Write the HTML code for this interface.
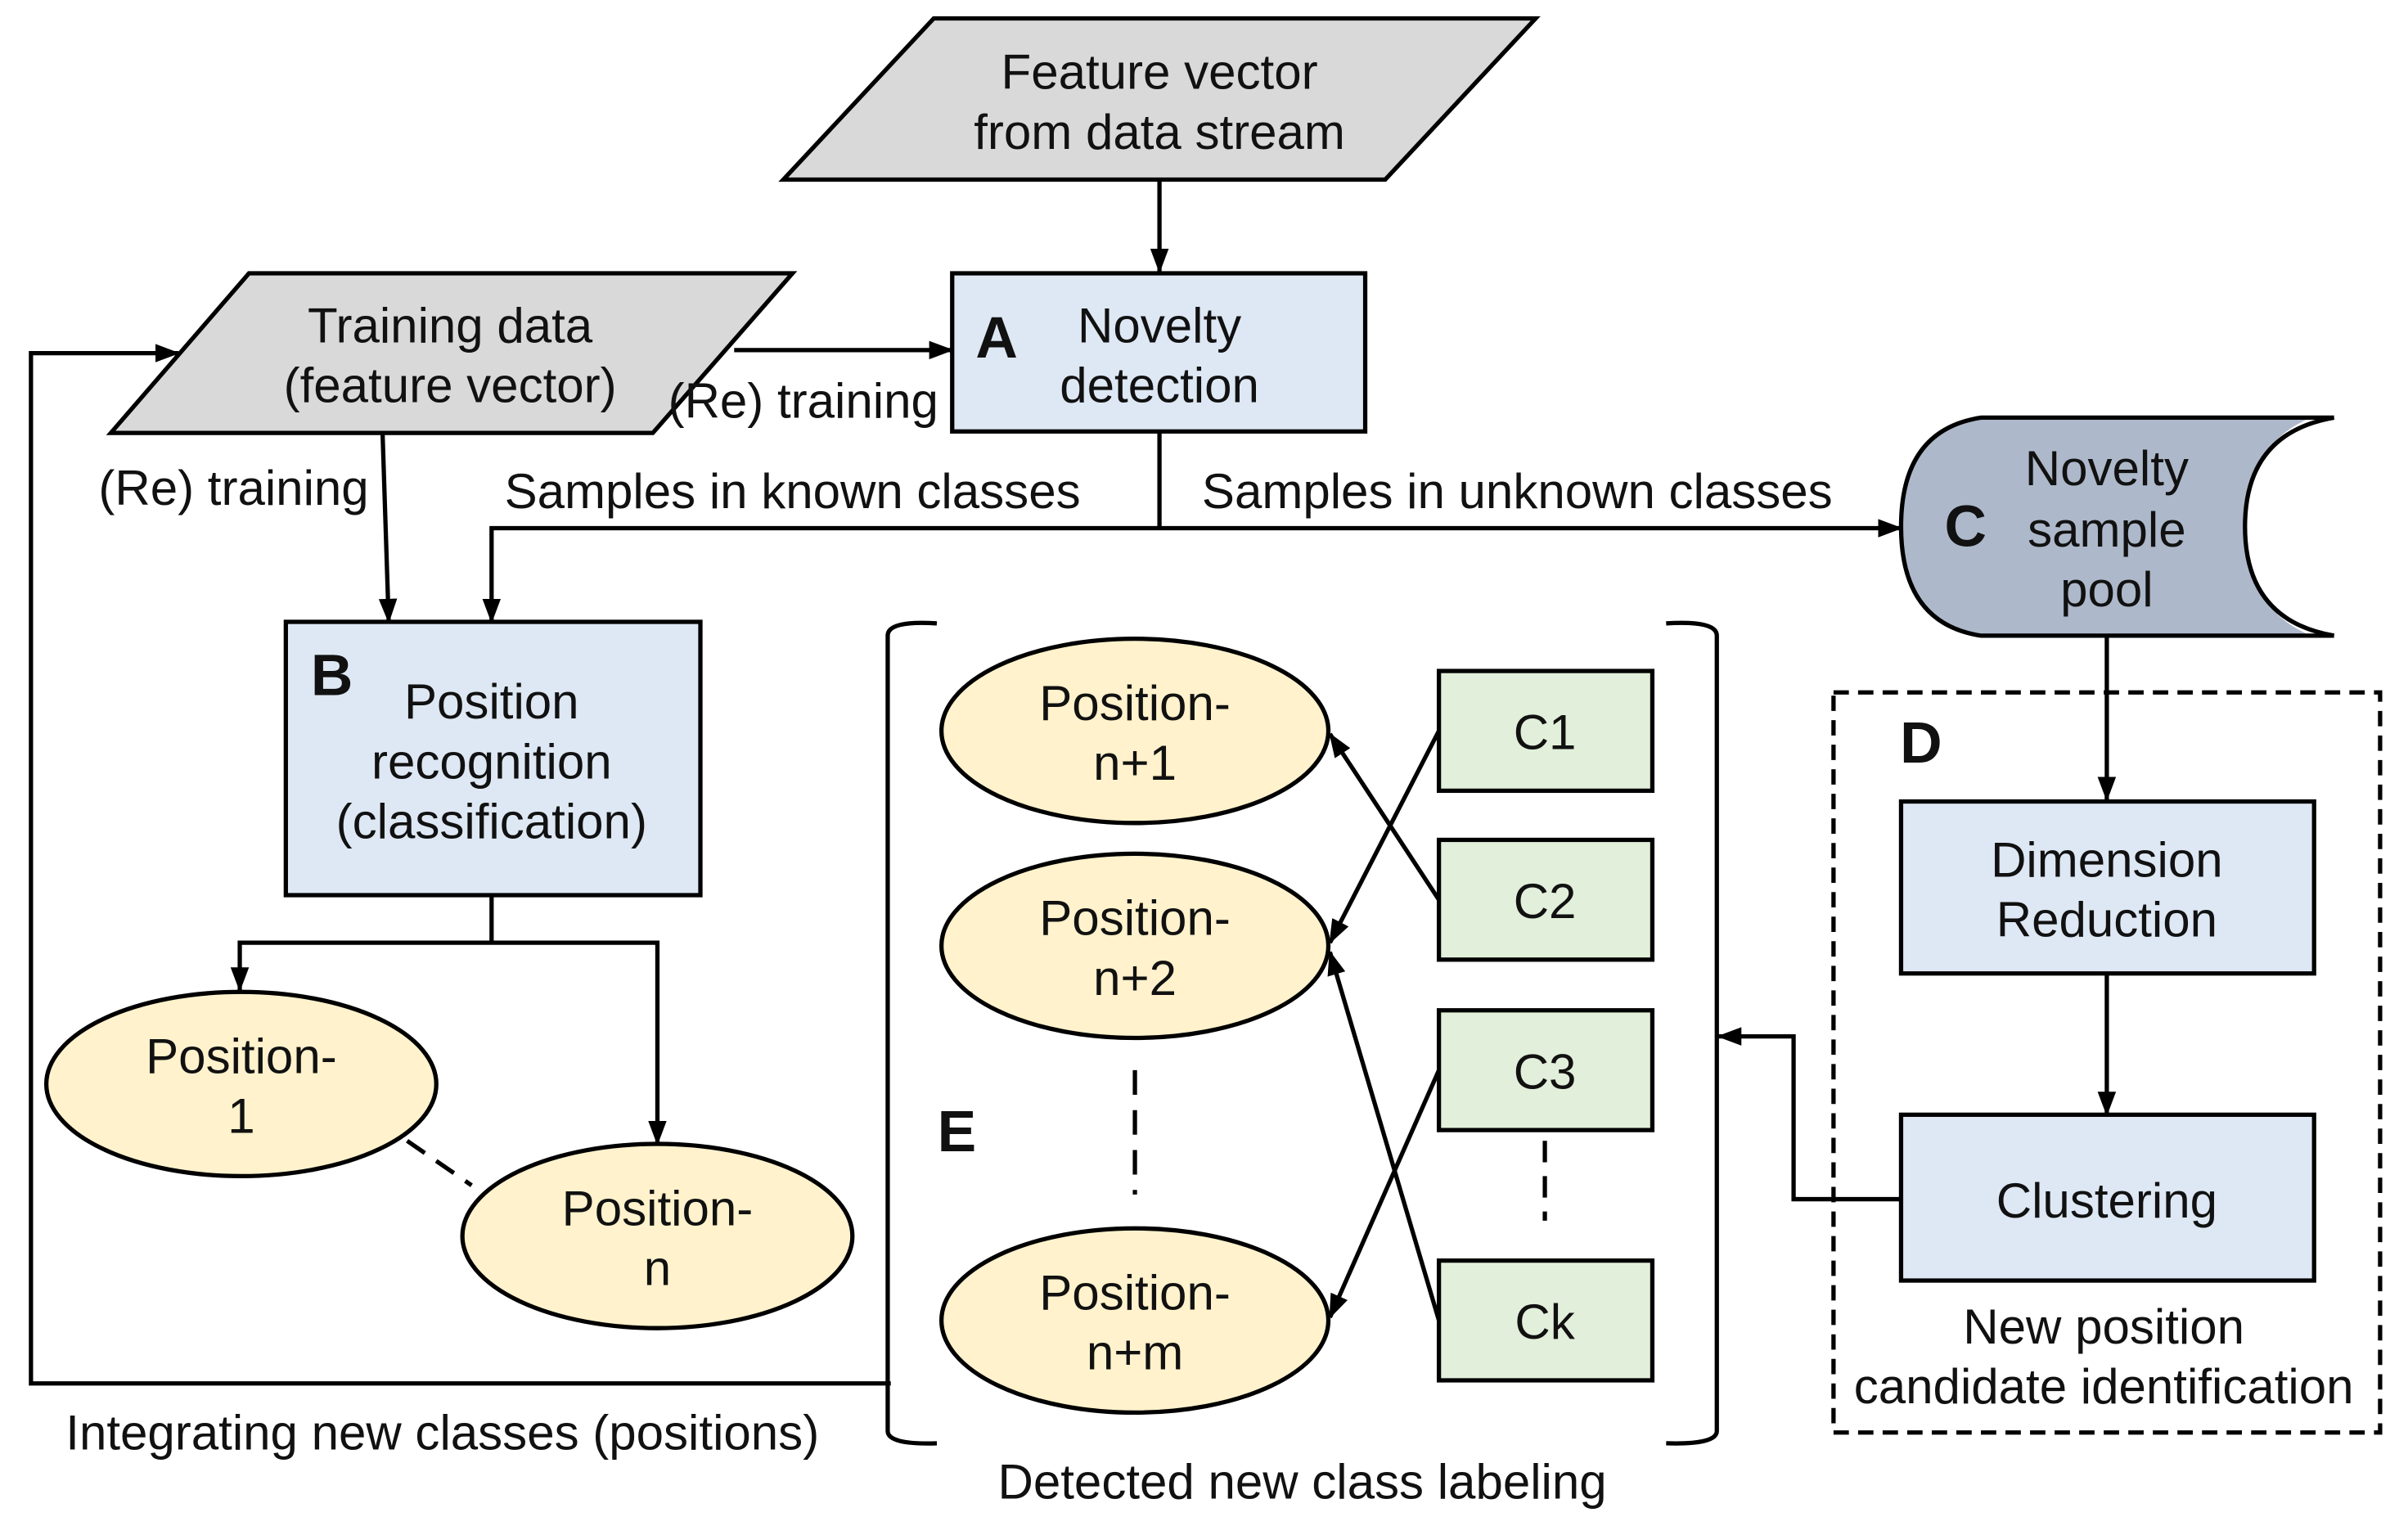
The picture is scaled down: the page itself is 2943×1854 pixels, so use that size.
<!DOCTYPE html>
<html><head><meta charset="utf-8"><style>
html,body{margin:0;padding:0;background:#fff;}
svg{display:block;}
text{font-family:"Liberation Sans",sans-serif;font-size:32px;fill:#111;text-anchor:middle;dominant-baseline:central;}
.b{font-weight:bold;font-size:38px;}
</style></head><body>
<svg width="2943" height="1854" viewBox="0 0 1568 988" xmlns="http://www.w3.org/2000/svg">
<defs>
<marker id="ar" viewBox="0 0 16 12" refX="15" refY="6" markerWidth="16" markerHeight="12" orient="auto-start-reverse" markerUnits="userSpaceOnUse">
<path d="M0,0 L16,6 L0,12 z" fill="#000"/>
</marker>
</defs>
<g stroke="#000" stroke-width="2.8" fill="none">
<polygon points="510,117 608,12 1000,12 902,117" fill="#d9d9d9"/>
<line x1="755" y1="117" x2="755" y2="177" marker-end="url(#ar)"/>
<polygon points="72,282 162,178 516,178 425,282" fill="#d9d9d9"/>
<line x1="478" y1="228" x2="620" y2="228" marker-end="url(#ar)"/>
<rect x="620" y="178" width="269" height="103" fill="#dee8f4"/>
<polyline points="755,282 755,344"/>
<polyline points="320,405 320,344 1238,344" marker-start="url(#ar)" marker-end="url(#ar)"/>
<line x1="249" y1="282" x2="253" y2="405" marker-end="url(#ar)"/>
<rect x="186" y="405" width="270" height="178" fill="#dee8f4"/>
<polyline points="320,583 320,614"/>
<polyline points="156,645 156,614 428,614 428,745" marker-start="url(#ar)" marker-end="url(#ar)"/>
<ellipse cx="157" cy="706" rx="127" ry="60" fill="#fff2cc"/>
<ellipse cx="428" cy="805" rx="127" ry="60" fill="#fff2cc"/>
<line x1="265" y1="743" x2="307" y2="772" stroke-dasharray="14,9"/>
<polyline points="580,901 20,901 20,230 116,230" marker-end="url(#ar)"/>
<path d="M610,406 Q578,404 578,414 L578,932 Q578,941 610,940"/>
<path d="M1085,406 Q1118,404 1118,414 L1118,932 Q1118,941 1085,940"/>
<ellipse cx="739" cy="476" rx="126" ry="60" fill="#fff2cc"/>
<ellipse cx="739" cy="616" rx="126" ry="60" fill="#fff2cc"/>
<ellipse cx="739" cy="860" rx="126" ry="60" fill="#fff2cc"/>
<line x1="739" y1="697" x2="739" y2="778" stroke-dasharray="16,10"/>
<rect x="937" y="437" width="139" height="78" fill="#e2efda"/>
<rect x="937" y="547" width="139" height="78" fill="#e2efda"/>
<rect x="937" y="658" width="139" height="78" fill="#e2efda"/>
<rect x="937" y="821" width="139" height="78" fill="#e2efda"/>
<line x1="1006" y1="743" x2="1006" y2="795" stroke-dasharray="14,9"/>
<line x1="937" y1="476" x2="866" y2="614" marker-end="url(#ar)"/>
<line x1="937" y1="586" x2="866" y2="478" marker-end="url(#ar)"/>
<line x1="937" y1="697" x2="866" y2="858" marker-end="url(#ar)"/>
<line x1="937" y1="860" x2="866" y2="620" marker-end="url(#ar)"/>
<path d="M1290,272 L1505,272 Q1462,290 1462,343 Q1462,396 1505,414 L1290,414 Q1238,406 1238,343 Q1238,280 1290,272 z" fill="#adb9ca" stroke="none"/>
<path d="M1520,272 L1290,272 Q1238,280 1238,343 Q1238,406 1290,414 L1520,414"/>
<path d="M1520,272 Q1462,282 1462,343 Q1462,404 1520,414"/>
<line x1="1372" y1="414" x2="1372" y2="521" marker-end="url(#ar)"/>
<rect x="1194" y="451" width="356" height="482" stroke-dasharray="10,6"/>
<rect x="1238" y="522" width="269" height="112" fill="#dee8f4"/>
<line x1="1372" y1="634" x2="1372" y2="726" marker-end="url(#ar)"/>
<rect x="1238" y="726" width="269" height="108" fill="#dee8f4"/>
<polyline points="1238,781 1168,781 1168,675 1119,675" marker-end="url(#ar)"/>
</g>
<text x="755" y="47">Feature vector</text>
<text x="755" y="86">from data stream</text>
<text x="293" y="212">Training data</text>
<text x="293" y="251">(feature vector)</text>
<text class="b" x="649" y="220">A</text>
<text x="755" y="212">Novelty</text>
<text x="755" y="251">detection</text>
<text x="523" y="261">(Re) training</text>
<text x="152" y="318">(Re) training</text>
<text x="516" y="320">Samples in known classes</text>
<text x="988" y="320">Samples in unknown classes</text>
<text class="b" x="216" y="440">B</text>
<text x="320" y="457">Position</text>
<text x="320" y="496">recognition</text>
<text x="320" y="535">(classification)</text>
<text x="157" y="688">Position-</text>
<text x="157" y="727">1</text>
<text x="428" y="787">Position-</text>
<text x="428" y="826">n</text>
<text x="288" y="933">Integrating new classes (positions)</text>
<text x="739" y="458">Position-</text>
<text x="739" y="497">n+1</text>
<text x="739" y="598">Position-</text>
<text x="739" y="637">n+2</text>
<text x="739" y="842">Position-</text>
<text x="739" y="881">n+m</text>
<text class="b" x="623" y="737">E</text>
<text x="1006" y="477">C1</text>
<text x="1006" y="587">C2</text>
<text x="1006" y="698">C3</text>
<text x="1006" y="861">Ck</text>
<text x="848" y="965">Detected new class labeling</text>
<text class="b" x="1280" y="343">C</text>
<text x="1372" y="305">Novelty</text>
<text x="1372" y="345">sample</text>
<text x="1372" y="384">pool</text>
<text class="b" x="1251" y="484">D</text>
<text x="1372" y="560">Dimension</text>
<text x="1372" y="599">Reduction</text>
<text x="1372" y="782">Clustering</text>
<text x="1370" y="864">New position</text>
<text x="1370" y="903">candidate identification</text>
</svg>
</body></html>
